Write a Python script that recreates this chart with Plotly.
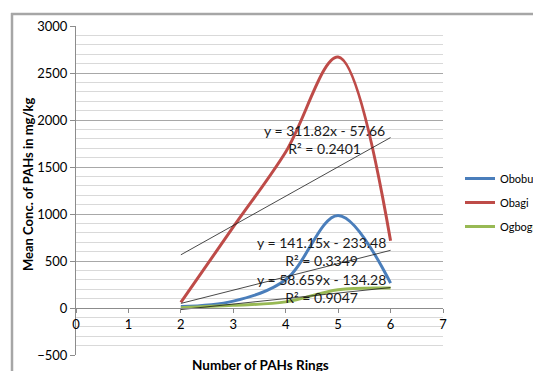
import plotly.graph_objects as go

rings = [2, 3, 4, 5, 6]
oboburu = [15, 73, 300, 985, 265]
obagi = [60, 862, 1660, 2670, 715]
ogbogu = [3, 28, 65, 195, 212]

series_names = ["Oboburu", "Obagi", "Ogbogu"]
series_values = [oboburu, obagi, ogbogu]
series_colors = ["#4A7EBB", "#BE4B48", "#98B954"]

trend_slopes = [141.15, 311.82, 58.659]
trend_intercepts = [-233.48, -57.66, -134.28]
trend_r2 = ["0.3349", "0.2401", "0.9047"]
trend_labels = ["y = 141.15x - 233.48", "y = 311.82x - 57.66", "y = 58.659x - 134.28"]

x_ticks = [0, 1, 2, 3, 4, 5, 6, 7]
y_ticks = [-500, 0, 500, 1000, 1500, 2000, 2500, 3000]

FONT = "Lato"
OFF = 8  # default page body margin
W, H = 541 - OFF, 371 - OFF
# plot area in page pixels
PX0, PX1, PY0, PY1 = 76, 443, 26, 355
L, R, T, B = PX0 - OFF, W - (PX1 - OFF), PY0 - OFF, H - (PY1 - OFF)
pw, ph = W - L - R, H - T - B


def px(xp):
    return (xp - OFF - L) / pw


def py(yp):
    return (H - B - (yp - OFF)) / ph


fig = go.Figure()

for name, vals, col in zip(series_names, series_values, series_colors):
    fig.add_trace(go.Scatter(
        x=rings, y=vals, mode="lines", name=name, legendgroup=name,
        line=dict(color=col, width=3, shape="spline", smoothing=1.0),
    ))

for m, b in zip(trend_slopes, trend_intercepts):
    xs = [rings[0], rings[-1]]
    fig.add_trace(go.Scatter(
        x=xs, y=[m * v + b for v in xs], mode="lines", showlegend=False,
        line=dict(color="#1a1a1a", width=0.8), hoverinfo="skip",
    ))

label_pos = [(321.5, 251.5), (324, 139.5), (321, 288)]
annotations = []
for lab, r2, (xp, yp) in zip(trend_labels, trend_r2, label_pos):
    annotations.append(dict(
        x=px(xp), y=py(yp), xref="paper", yref="paper",
        text=lab + "<br>R² = " + r2, showarrow=False,
        font=dict(family=FONT, size=14, color="#1a1a1a"),
        xanchor="center", yanchor="middle", align="center",
    ))

annotations.append(dict(
    x=px(260), y=py(365), xref="paper", yref="paper",
    text="<b>Number of PAHs Rings</b>", showarrow=False,
    font=dict(family=FONT, size=13.5, color="#000000"),
    xanchor="center", yanchor="middle",
))
annotations.append(dict(
    x=px(28), y=py(185), xref="paper", yref="paper",
    text="<b>Mean Conc. of PAHs in mg/kg</b>", showarrow=False, textangle=-90,
    font=dict(family=FONT, size=13, color="#000000"),
    xanchor="center", yanchor="middle",
))

shapes = [
    dict(type="line", xref="paper", yref="paper", x0=px(11), x1=px(560), y0=py(14), y1=py(14),
         line=dict(color="#a6a6a6", width=2.5)),
    dict(type="line", xref="paper", yref="paper", x0=px(12), x1=px(12), y0=py(13), y1=py(380),
         line=dict(color="#a6a6a6", width=2.5)),
]

fig.update_layout(
    width=W, height=H,
    margin=dict(l=L, r=R, t=T, b=B, autoexpand=False),
    paper_bgcolor="white", plot_bgcolor="white",
    font=dict(family=FONT, size=13, color="#000000"),
    showlegend=True,
    legend=dict(x=px(460), y=py(164), xanchor="left", yanchor="top",
                font=dict(family=FONT, size=11, color="#000000"),
                traceorder="grouped", tracegroupgap=5, itemwidth=30,
                bgcolor="rgba(0,0,0,0)"),
    annotations=annotations,
    shapes=shapes,
    xaxis=dict(range=[0, 7], tickvals=x_ticks, showgrid=False, zeroline=False,
               showline=True, linecolor="#8c8c8c", linewidth=1,
               ticks="outside", ticklen=4, tickcolor="#8c8c8c",
               anchor="free", position=py(308),
               tickfont=dict(family=FONT, size=13, color="#000000")),
    yaxis=dict(range=[-500, 3000], tickvals=y_ticks, showgrid=True, gridcolor="#a8a8a8",
               gridwidth=1, zeroline=False, showline=True, linecolor="#8c8c8c",
               ticks="outside", ticklen=5, tickcolor="#8c8c8c",
               minor=dict(dtick=100, tick0=0, showgrid=True, gridcolor="#d9d9d9", gridwidth=1),
               tickfont=dict(family=FONT, size=13, color="#000000")),
)

fig.write_html("out.html")
